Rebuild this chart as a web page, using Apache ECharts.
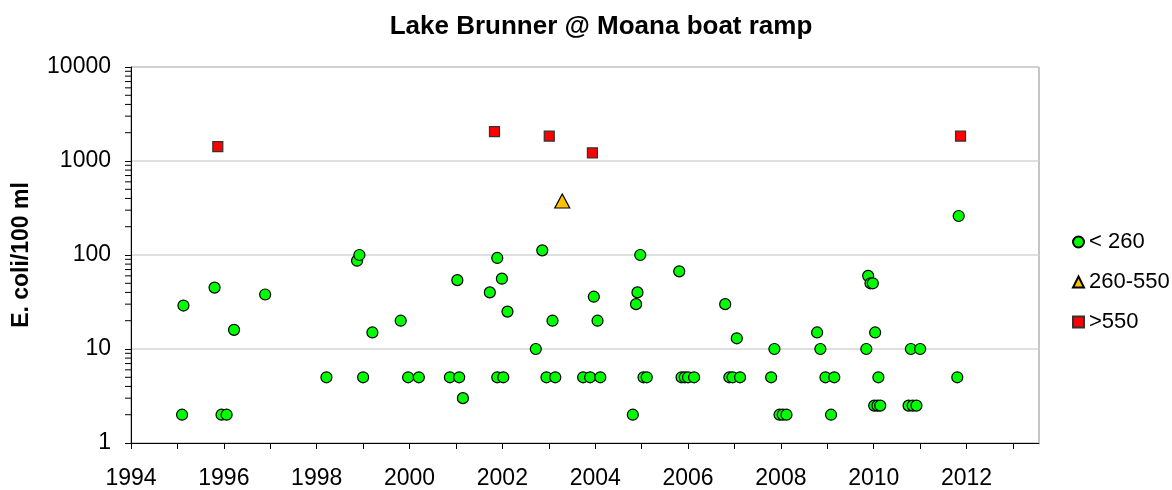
<!DOCTYPE html>
<html>
<head>
<meta charset="utf-8">
<script src="https://cdn.jsdelivr.net/npm/echarts@6/dist/echarts.min.js"></script>
<style>
  html, body { margin: 0; padding: 0; background: #fff; }
  #chart { width: 1172px; height: 490px; }
</style>
</head>
<body>
<div id="chart"></div>
<script>
// samples below 260 (decimal year, E. coli per 100 ml)
const lowYears = [1995.13, 1995.10, 1995.80, 1995.95, 1996.06, 1996.22, 1996.89,
  1998.21, 1998.87, 1998.92, 1999.00, 1999.20, 1999.81, 1999.97, 2000.20,
  2000.87, 2001.07, 2001.03, 2001.15, 2001.73, 2001.89, 2001.99, 2001.89, 2002.02, 2002.11,
  2002.72, 2002.86, 2002.95, 2003.14, 2003.08,
  2003.74, 2003.89, 2004.11, 2003.97, 2004.05,
  2004.81, 2004.88, 2004.91, 2004.97, 2005.04, 2005.11,
  2005.81, 2005.86, 2005.93, 2006.00, 2006.13,
  2006.80, 2006.89, 2006.96, 2007.12, 2007.05,
  2007.79, 2007.86, 2007.97, 2008.04, 2008.12,
  2008.78, 2008.85, 2008.96, 2009.15, 2009.08,
  2009.84, 2009.88, 2009.93, 2009.98, 2010.03, 2010.01, 2010.08, 2010.14, 2010.10,
  2010.80, 2011.00, 2010.75, 2010.84, 2010.92,
  2011.80, 2011.83];
const lowValues = [29, 2, 45, 2, 2, 16, 38,
  5, 87, 100, 5, 15, 20, 5, 5,
  5, 5, 54, 3, 40, 93, 56, 5, 5, 25,
  10, 112, 5, 5, 20,
  5, 5, 5, 36, 20,
  2, 30, 40, 100, 5, 5,
  67, 5, 5, 5, 5,
  30, 5, 5, 5, 13,
  5, 10, 2, 2, 2,
  15, 10, 5, 5, 2,
  10, 60, 50, 50, 15, 2.5, 2.5, 2.5, 5,
  10, 10, 2.5, 2.5, 2.5,
  5, 260];

// samples 260-550
const midYears = [2003.29];
const midValues = [375];

// samples above 550
const highYears = [1995.87, 2001.83, 2003.01, 2003.94, 2011.87];
const highValues = [1420, 2050, 1840, 1220, 1840];

const yTickLabels = [1, 10, 100, 1000, 10000];
const xLabelYears = [1994, 1996, 1998, 2000, 2002, 2004, 2006, 2008, 2010, 2012];

const pair = (xs, ys) => xs.map((x, i) => [x, ys[i]]);

// unlabelled log minor ticks 2..9 in each decade
let minorTicks = [];
for (let k = 0; k < yTickLabels.length - 1; k++) {
  for (let m = 2; m <= 9; m++) minorTicks.push([1994, m * yTickLabels[k]]);
}

const font = 'Liberation Sans, Arial, sans-serif';
const chart = echarts.init(document.getElementById('chart'));

const option = {
  animation: false,
  title: {
    text: 'Lake Brunner @ Moana boat ramp',
    left: 601, top: 14, textAlign: 'center', padding: 0,
    textStyle: { fontFamily: font, fontSize: 26, fontWeight: 'bold', color: '#000' }
  },
  legend: {
    orient: 'vertical', padding: 0,
    left: 1072, top: 231,
    itemWidth: 11, itemHeight: 11, itemGap: 18,
    textStyle: { fontFamily: font, fontSize: 22, lineHeight: 22, color: '#000' },
    data: [
      { name: '< 260', icon: 'circle' },
      { name: '260-550', icon: 'triangle' },
      { name: '>550', icon: 'rect' }
    ]
  },
  grid: {
    left: 131, right: 133, top: 67, bottom: 46,
    show: true, borderColor: '#8c8c8c', borderWidth: 1, backgroundColor: '#fff'
  },
  xAxis: {
    type: 'value', min: 1994, max: 2013.56, interval: 1,
    axisLine: { lineStyle: { color: '#000' } },
    axisTick: { show: true, inside: false, length: 6, lineStyle: { color: '#000' } },
    splitLine: { show: false },
    axisLabel: {
      margin: 24, fontFamily: font, fontSize: 23, color: '#000',
      showMaxLabel: false,
      formatter: v => xLabelYears.includes(v) ? String(v) : ''
    }
  },
  yAxis: {
    type: 'log', logBase: 10, min: 1, max: 10000,
    name: 'E. coli/100 ml', nameLocation: 'middle', nameGap: 98,
    nameTextStyle: { fontFamily: font, fontSize: 23, fontWeight: 'bold', color: '#000' },
    axisLine: { show: true, lineStyle: { color: '#000' } },
    axisTick: { show: true, length: 6, lineStyle: { color: '#000' } },
    splitLine: { show: true, lineStyle: { color: '#d4d4d4', width: 1.5 } },
    axisLabel: {
      margin: 20, fontFamily: font, fontSize: 23, color: '#000',
      formatter: v => yTickLabels.includes(v) ? String(v) : ''
    }
  },
  series: [
    {
      name: 'minor', type: 'custom', silent: true, clip: false, z: 5,
      data: minorTicks,
      renderItem: (params, api) => {
        const p = api.coord([api.value(0), api.value(1)]);
        return {
          type: 'line',
          shape: { x1: p[0] - 6, y1: p[1], x2: p[0], y2: p[1] },
          style: { stroke: '#000', lineWidth: 1 }
        };
      }
    },
    {
      name: '< 260', type: 'scatter', symbol: 'circle', symbolSize: 11, z: 3,
      itemStyle: { color: '#00ff00', borderColor: '#000', borderWidth: 1.2, opacity: 1 },
      data: pair(lowYears, lowValues)
    },
    {
      name: '260-550', type: 'scatter', symbol: 'triangle', symbolSize: [15, 14], z: 3,
      itemStyle: { color: '#ffc000', borderColor: '#000', borderWidth: 1.2, opacity: 1 },
      data: pair(midYears, midValues)
    },
    {
      name: '>550', type: 'scatter', symbol: 'rect', symbolSize: 10, z: 3,
      itemStyle: { color: '#ff0000', borderColor: '#333', borderWidth: 1.2, opacity: 1 },
      data: pair(highYears, highValues)
    }
  ]
};

chart.setOption(option);
</script>
</body>
</html>
